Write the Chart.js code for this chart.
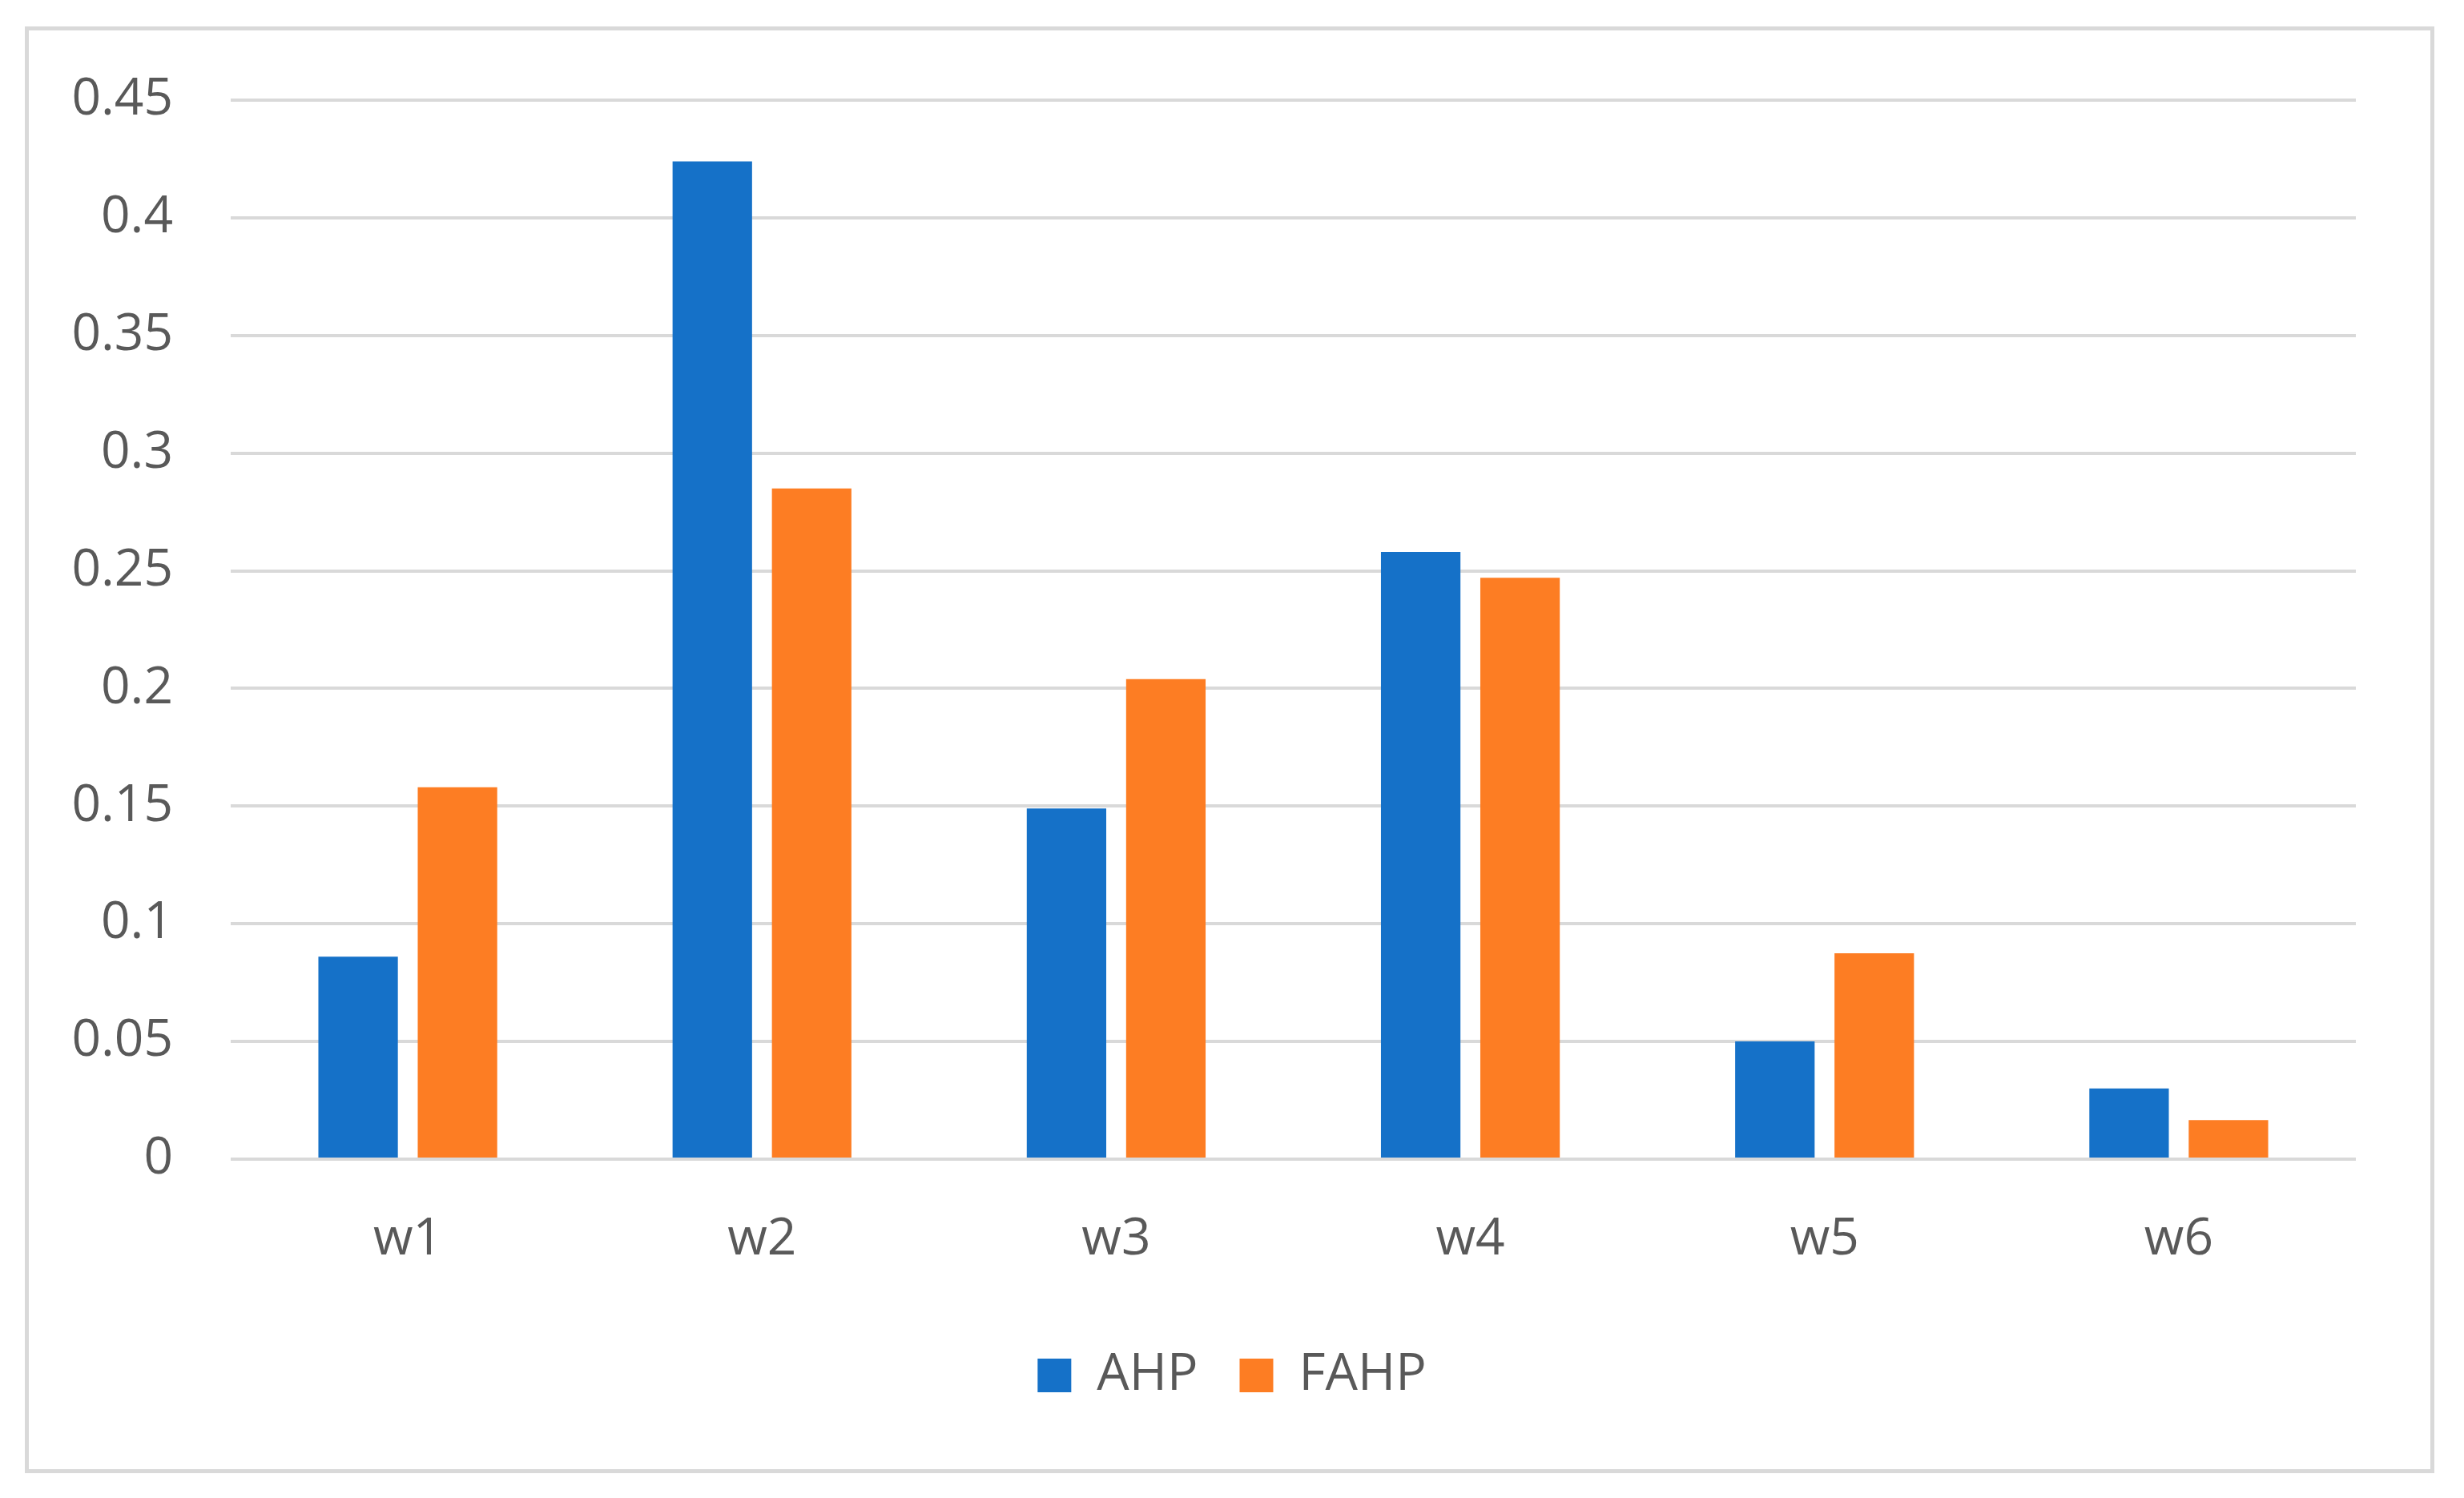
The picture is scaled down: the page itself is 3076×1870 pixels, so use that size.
<!DOCTYPE html>
<html>
<head>
<meta charset="utf-8">
<script src="https://cdn.jsdelivr.net/npm/chart.js@4/dist/chart.umd.min.js"></script>
<style>
  html, body { margin: 0; padding: 0; background: #ffffff; }
  #wrap { position: relative; width: 3076px; height: 1870px; }
  #frame { position: absolute; left: 31px; top: 33px; width: 2998px; height: 1796px; border: 5px solid #d9d9d9; }
  #chart { position: absolute; left: 0; top: 0; }
</style>
</head>
<body>
<div id="wrap">
  <div id="frame"></div>
  <canvas id="chart" width="3076" height="1870"></canvas>
</div>
<script>
// weights
var aCategories = ['w1', 'w2', 'w3', 'w4', 'w5', 'w6'];
var aAhp = [0.086, 0.424, 0.149, 0.258, 0.050, 0.030];
var aFahp = [0.158, 0.285, 0.204, 0.247, 0.0875, 0.0166];
var aSeriesNames = ['AHP', 'FAHP'];
var aTicks = [0, 0.05, 0.1, 0.15, 0.2, 0.25, 0.3, 0.35, 0.4, 0.45];

var sTextColor = '#595959';
var sGridColor = '#d9d9d9';
var oFont = { family: '"Open Sans", "Noto Sans", sans-serif', size: 64 };

Chart.defaults.font.family = oFont.family;
Chart.defaults.color = sTextColor;

var oChart = new Chart(document.getElementById('chart'), {
    type: 'bar',
    data: {
        labels: aCategories,
        datasets: [
            { label: aSeriesNames[0], data: aAhp, backgroundColor: '#1571c8' },
            { label: aSeriesNames[1], data: aFahp, backgroundColor: '#fd7d23' }
        ]
    },
    options: {
        responsive: false,
        animation: false,
        devicePixelRatio: 1,
        categoryPercentage: 0.561,
        barPercentage: 0.8,
        layout: { padding: { top: 125, right: 0, bottom: 111, left: 0 } },
        plugins: {
            tooltip: { enabled: false },
            legend: {
                position: 'bottom',
                labels: {
                    font: oFont,
                    color: sTextColor,
                    boxWidth: 42,
                    boxHeight: 42,
                    padding: 52
                }
            }
        },
        scales: {
            x: {
                grid: { display: false, drawTicks: false },
                border: { display: false },
                ticks: { font: oFont, color: sTextColor, padding: 62 },
                afterFit: function (oScale) { oScale.height = 186; }
            },
            y: {
                min: 0,
                max: 0.45,
                afterBuildTicks: function (oScale) {
                    oScale.ticks = aTicks.map(function (v) { return { value: v }; });
                },
                grid: { color: sGridColor, lineWidth: 4, drawTicks: false },
                border: { display: false },
                ticks: {
                    font: oFont,
                    color: sTextColor,
                    padding: 72,
                    callback: function (v) { return String(parseFloat(v.toFixed(2))); }
                },
                afterFit: function (oScale) { oScale.width = 288; }
            },
            // empty right margin so the legend stays centred on the page
            yRight: {
                position: 'right',
                grid: { display: false, drawTicks: false },
                border: { display: false },
                ticks: { display: false },
                afterFit: function (oScale) { oScale.width = 135; }
            }
        }
    }
});
</script>
</body>
</html>
